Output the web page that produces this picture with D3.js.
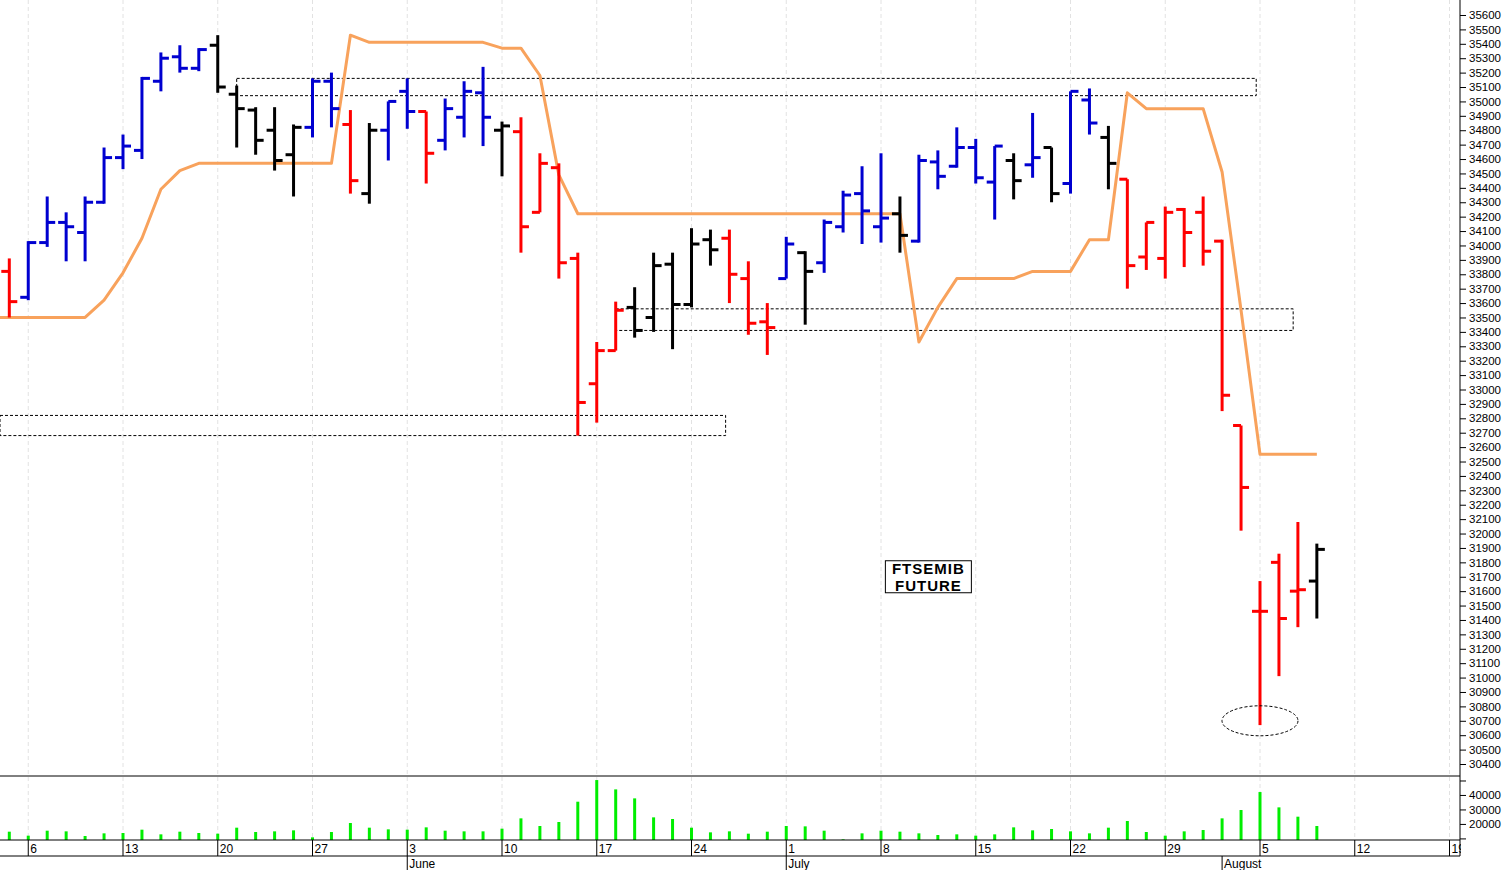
<!DOCTYPE html>
<html><head><meta charset="utf-8">
<script src="https://cdn.jsdelivr.net/npm/d3@7"></script>
<style>body{margin:0;background:#fff;}svg{display:block;}text{font-family:"Liberation Sans",Arial,sans-serif;}</style>
</head><body><svg id="c" width="1508" height="870"></svg>
<script>
const opens  = [33820,33640,34020,34160,34090,34300,34610,34660,35140,35310,35230,35390,35050,34940,34800,34630,34820,35140,34840,34360,34800,35070,34930,34730,34890,35060,34800,34790,34230,34540,33910,33040,33270,33570,33500,33870,33590,34040,34050,33770,33470,33770,33950,33880,34130,34360,34130,34220,34030,34580,34550,34680,34440,34590,34560,34680,34430,35010,34750,34460,33920,33910,34250,34230,34030,32750,31460,31800,31600,31670];
const highs  = [33910,34030,34340,34230,34340,34680,34770,35170,35340,35390,35370,35460,35110,34960,34960,34840,35160,35200,34940,34850,35000,35160,34930,35020,35140,35240,34860,34890,34640,34570,33950,33330,33610,33710,33950,33950,34120,34110,34110,33890,33600,34060,33960,34180,34380,34550,34640,34340,34630,34660,34820,34740,34690,34640,34920,34680,35070,35090,34830,34460,34160,34270,34260,34340,34040,32750,31670,31860,32080,31930];
const lows   = [33500,33620,33990,33890,33890,34290,34530,34600,35070,35200,35210,35060,34680,34630,34520,34340,34750,34820,34360,34290,34590,34810,34430,34660,34750,34690,34480,33950,34230,33770,32680,32770,33270,33360,33400,33280,33570,33860,33600,33380,33240,33770,33450,33810,34090,34010,34020,33950,34020,34390,34540,34430,34180,34320,34470,34300,34360,34770,34390,33700,33830,33770,33850,33860,32850,32020,30670,31010,31350,31410];
const closes = [33610,34020,34160,34130,34300,34610,34690,35160,35300,35230,35360,35100,34950,34730,34590,34820,35140,34950,34450,34800,35000,34930,34640,34950,35070,34890,34830,34130,34570,33880,32910,33270,33550,33410,33860,33590,34010,33970,33800,33460,33430,34010,33820,34160,34350,34240,34190,34070,34590,34480,34680,34470,34690,34450,34610,34360,35070,34850,34570,33860,34160,34230,34090,33960,32960,32320,31460,31410,31610,31890];
const signalRuns = [["d",1],["u",10],["n",5],["u",2],["d",1],["n",1],["u",2],["d",1],["u",3],["n",1],["d",6],["n",5],["d",3],["u",1],["n",1],["u",4],["n",1],["u",5],["n",1],["u",1],["n",1],["u",2],["n",1],["d",10],["n",1]];
const stopLine = [33500,33500,33500,33500,33500,33620,33810,34050,34390,34520,34570,34570,34570,34570,34570,34570,34570,34570,35460,35410,35410,35410,35410,35410,35410,35410,35370,35370,35180,34490,34220,34220,34220,34220,34220,34220,34220,34220,34220,34220,34220,34220,34220,34220,34220,34220,34220,34220,33330,33570,33770,33770,33770,33770,33820,33820,33820,34040,34040,35060,34950,34950,34950,34950,34510,33550,32550,32550,32550,32550];
const volumes = [14650,11890,15340,14880,11660,13500,13730,16030,12810,14650,13730,13270,17410,14420,14880,15570,10740,14420,20630,17410,16260,16030,17640,15340,14880,14880,16720,23850,18560,21320,35350,50300,43860,37650,24540,23390,17410,14190,14880,13270,14650,18560,18330,15340,9360,13500,15340,14650,13500,12350,12810,11890,12810,17640,15570,16490,14880,13500,17410,22010,14420,11890,14880,15800,23850,29600,42020,31440,25000,18560];
const dayTickLabels = ["6","13","20","27","3","10","17","24","1","8","15","22","29","5","12","19"];
const dayTickIdx = [1,6,11,16,21,26,31,36,41,46,51,56,61,66,71,76];
const monthLabels = ["May","June","July","August"];
const monthIdx = [-2,21,41,64];
const zoneFrom = [12,-1,32];
const zoneTo = [65.8,37.8,67.75];
const zoneHi = [35160,32820,33560];
const zoneLo = [35040,32680,33410];

const sig = [];
signalRuns.forEach(([c,n])=>{for(let k=0;k<n;k++)sig.push(c);});
const colorMap = {u:"#0000d0",d:"#ff0000",n:"#000000"};

const svg = d3.select("#c");
const x = d3.scaleLinear().domain([0,66]).range([9.3,1260]);
const y = d3.scaleLinear().domain([30400,35600]).range([764,15]);
const yv = d3.scaleLinear().domain([8900,53100]).range([840,776]);
const axisX = 1460;

svg.append("g").selectAll("line").data(dayTickIdx).join("line")
  .attr("x1",d=>x(d)).attr("x2",d=>x(d)).attr("y1",0).attr("y2",840)
  .attr("stroke","#e2e2e2").attr("stroke-dasharray","4,3").attr("stroke-width",1);

svg.append("g").selectAll("rect").data(zoneHi).join("rect")
  .attr("x",(d,i)=>Math.max(0,x(zoneFrom[i])))
  .attr("width",(d,i)=>x(zoneTo[i])-Math.max(0,x(zoneFrom[i])))
  .attr("y",d=>y(d)).attr("height",(d,i)=>y(zoneLo[i])-y(d))
  .attr("fill","none").attr("stroke","#000").attr("stroke-width",1).attr("stroke-dasharray","3,2");

svg.append("path").datum(stopLine)
  .attr("d",d3.line().x((d,i)=>i===0?0:x(i)).y(d=>y(d)))
  .attr("fill","none").attr("stroke","#f8a25c").attr("stroke-width",3).attr("stroke-linejoin","round");

const bars = svg.append("g").selectAll("g").data(opens).join("g")
  .attr("stroke",(d,i)=>colorMap[sig[i]]).attr("stroke-width",3);
bars.append("line").attr("x1",(d,i)=>x(i)).attr("x2",(d,i)=>x(i)).attr("y1",(d,i)=>y(highs[i])).attr("y2",(d,i)=>y(lows[i]));
bars.append("line").attr("x1",(d,i)=>x(i)-8).attr("x2",(d,i)=>x(i)).attr("y1",d=>y(d)).attr("y2",d=>y(d));
bars.append("line").attr("x1",(d,i)=>x(i)).attr("x2",(d,i)=>x(i)+8).attr("y1",(d,i)=>y(closes[i])).attr("y2",(d,i)=>y(closes[i]));

svg.append("ellipse").attr("cx",x(66)).attr("cy",y(30700)).attr("rx",38).attr("ry",15)
  .attr("fill","none").attr("stroke","#000").attr("stroke-dasharray","3,2");

const lb = svg.append("g").attr("transform",`translate(${x(48.5)},${y(31700)})`);
lb.append("rect").attr("x",-43).attr("y",-16).attr("width",86).attr("height",32).attr("fill","#fff").attr("stroke","#000");
["FTSEMIB","FUTURE"].forEach((t,k)=>lb.append("text").text(t).attr("y",-3+k*17).attr("text-anchor","middle")
  .attr("font-size",15).attr("font-weight","bold").attr("letter-spacing",1).attr("font-family","DejaVu Serif, serif"));

svg.append("g").selectAll("line").data(volumes).join("line")
  .attr("x1",(d,i)=>x(i)).attr("x2",(d,i)=>x(i)).attr("y1",840).attr("y2",d=>yv(d))
  .attr("stroke","#00ee00").attr("stroke-width",3);

svg.append("rect").attr("x",axisX).attr("y",0).attr("width",48).attr("height",870).attr("fill","#fff");
[776,840,856].forEach(v=>svg.append("line").attr("x1",0).attr("x2",axisX).attr("y1",v).attr("y2",v).attr("stroke","#000").attr("stroke-width",1));
svg.append("line").attr("x1",axisX).attr("x2",axisX).attr("y1",0).attr("y2",856).attr("stroke","#000");

const ya = svg.append("g").attr("transform",`translate(${axisX},0)`)
  .call(d3.axisRight(y).tickValues(d3.range(30400,35601,100)).tickSize(6).tickFormat(d3.format("d")));
ya.select(".domain").remove();
ya.selectAll("text").attr("font-size",11.5).attr("font-family","Liberation Sans Narrow, Liberation Sans, Arial").attr("x",9);
const va = svg.append("g").attr("transform",`translate(${axisX},0)`)
  .call(d3.axisRight(yv).tickValues([10000,20000,30000,40000,50000]).tickSize(6).tickFormat(d=>d===10000||d===50000?"":d));
va.select(".domain").remove();
va.selectAll("text").attr("font-size",11.5).attr("x",9);

svg.append("g").selectAll("line").data(dayTickIdx).join("line")
  .attr("x1",d=>x(d)).attr("x2",d=>x(d)).attr("y1",840).attr("y2",856).attr("stroke","#000");
svg.append("g").selectAll("text").data(dayTickLabels).join("text")
  .attr("x",(d,i)=>x(dayTickIdx[i])+2).attr("y",853).attr("font-size",12).text(d=>d);
svg.append("g").selectAll("line").data(monthIdx).join("line")
  .attr("x1",d=>x(d)).attr("x2",d=>x(d)).attr("y1",856).attr("y2",870).attr("stroke","#000");
svg.append("g").selectAll("text").data(monthLabels).join("text")
  .attr("x",(d,i)=>x(monthIdx[i])+2).attr("y",868).attr("font-size",12).text(d=>d);
svg.append("rect").attr("x",axisX+1).attr("y",840).attr("width",47).attr("height",30).attr("fill","#fff");
</script></body></html>
